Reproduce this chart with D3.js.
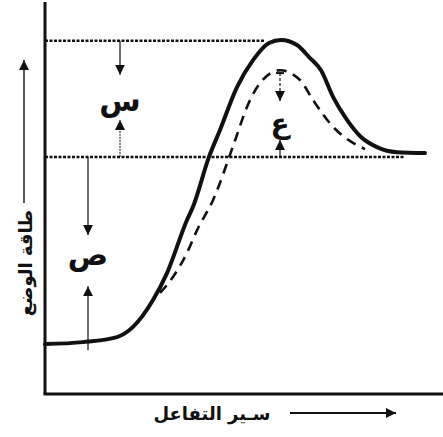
<!DOCTYPE html>
<html lang="ar">
<head>
<meta charset="UTF-8">
<title>طاقة الوضع</title>
<script src="https://d3js.org/d3.v7.min.js"></script>
<style>
  body { margin: 0; background: #fff; }
  text { font-family: "DejaVu Sans", sans-serif; font-weight: bold; fill: #111; }
</style>
</head>
<body>
<div id="chart"></div>
<script>
// reaction progress (0-100) and potential energy (0-100)
const solidX = [0, 9.5, 18, 22, 27, 30.5, 35.5, 37, 41, 43.75, 48, 52, 56, 59, 63, 66, 69, 72, 75.5, 79, 83, 88, 95];
const solidE = [12.8, 13.3, 14.6, 17.2, 24.1, 31, 44.6, 48, 60.8, 67.7, 78.7, 85.6, 90, 90.8, 89.5, 86.4, 83, 76.2, 70.3, 65.9, 63.3, 62, 61.8];
const dashX = [28.75, 32, 35.5, 38, 42, 47.5, 50.5, 53.75, 58.75, 63.75, 67, 72, 77, 80];
const dashE = [25.9, 30, 36.2, 42, 49.7, 65, 73.6, 79.7, 83, 80.5, 75.4, 68.5, 64.4, 62.8];

const reactantE = 13.3;
const productE = 60.8;
const peakE = 90.6;
const catPeakE = 82.8;

const levelLabels = ["س", "ص", "ع"];
const yTitle = "طاقة الوضع";
const xTitle = "سـير التفاعل";

const W = 443, H = 437;
const x = d3.scaleLinear().domain([0, 100]).range([45, 445]);
const y = d3.scaleLinear().domain([0, 100]).range([394, 4]);

const svg = d3.select("#chart").append("svg")
    .attr("width", W).attr("height", H);

// arrowhead
svg.append("defs").append("marker")
    .attr("id", "head")
    .attr("viewBox", "0 0 10 10")
    .attr("refX", 10).attr("refY", 5)
    .attr("markerWidth", 10).attr("markerHeight", 10)
    .attr("markerUnits", "userSpaceOnUse")
    .attr("orient", "auto")
    .append("path").attr("d", "M0,0 L10,5 L0,10 Z").attr("fill", "#111");

function arrow(x1, y1, x2, y2, w, dash) {
    svg.append("line")
        .attr("x1", x1).attr("y1", y1).attr("x2", x2).attr("y2", y2)
        .attr("stroke", "#111").attr("stroke-width", w || 1.2)
        .attr("stroke-dasharray", dash || null)
        .attr("marker-end", "url(#head)");
}

// dotted level lines
svg.append("line")
    .attr("x1", x(0)).attr("x2", x(55)).attr("y1", y(peakE)).attr("y2", y(peakE))
    .attr("stroke", "#111").attr("stroke-width", 2.5).attr("stroke-dasharray", "3,1.5");
svg.append("line")
    .attr("x1", x(0)).attr("x2", x(90)).attr("y1", y(productE)).attr("y2", y(productE))
    .attr("stroke", "#111").attr("stroke-width", 2.5).attr("stroke-dasharray", "3,1.5");

// axes
svg.append("line").attr("x1", x(0)).attr("x2", x(0)).attr("y1", 2).attr("y2", y(0))
    .attr("stroke", "#111").attr("stroke-width", 3);
svg.append("line").attr("x1", x(0) - 1.5).attr("x2", W).attr("y1", y(0)).attr("y2", y(0))
    .attr("stroke", "#111").attr("stroke-width", 3);

// curves
const line = d3.line().curve(d3.curveMonotoneX)
    .x(d => x(d[0])).y(d => y(d[1]));

svg.append("path")
    .datum(dashX.map((v, i) => [v, dashE[i]]))
    .attr("d", line).attr("fill", "none")
    .attr("stroke", "#111").attr("stroke-width", 2.6)
    .attr("stroke-dasharray", "10,7");

svg.append("path")
    .datum(solidX.map((v, i) => [v, solidE[i]]))
    .attr("d", line).attr("fill", "none")
    .attr("stroke", "#111").attr("stroke-width", 4)
    .attr("stroke-linecap", "round");

// س : activation energy (uncatalysed, from products side)
const sX = x(18.75);
arrow(sX, y(peakE), sX, y(peakE) + 34);
arrow(sX, y(productE), sX, y(productE) - 37, 1, "2,1");
svg.append("text").attr("x", sX).attr("y", y(productE) - 46)
    .attr("text-anchor", "middle").attr("font-size", 30).text(levelLabels[0]);

// ص : energy difference
const pX = x(10.75);
arrow(pX, y(productE), pX, y(productE) + 78);
arrow(pX, y(reactantE) + 8, pX, y(reactantE) - 56);
svg.append("text").attr("x", pX).attr("y", y(productE) + 108)
    .attr("text-anchor", "middle").attr("font-size", 30).text(levelLabels[1]);

// ع : catalysed activation energy
const cX = x(58.75);
svg.append("line").attr("x1", cX - 4).attr("x2", cX + 4)
    .attr("y1", y(catPeakE) + 2).attr("y2", y(catPeakE) + 2)
    .attr("stroke", "#111").attr("stroke-width", 2);
arrow(cX, y(catPeakE) + 2, cX, y(catPeakE) + 30, 1.2, "3,2");
arrow(cX, y(productE), cX, y(productE) - 17, 1.2);
svg.append("text").attr("x", cX).attr("y", y(productE) - 24)
    .attr("text-anchor", "middle").attr("font-size", 28).text(levelLabels[2]);

// axis titles
svg.append("text")
    .attr("transform", "translate(25," + 263 + ") rotate(-90)")
    .attr("text-anchor", "middle").attr("dominant-baseline", "central")
    .attr("font-size", 18).text(yTitle);
arrow(24, 203, 24, 60, 1.4);

svg.append("text").attr("x", 212).attr("y", 420)
    .attr("text-anchor", "middle").attr("font-size", 18).text(xTitle);
arrow(290, 413, 396, 413, 1.8);
</script>
</body>
</html>
